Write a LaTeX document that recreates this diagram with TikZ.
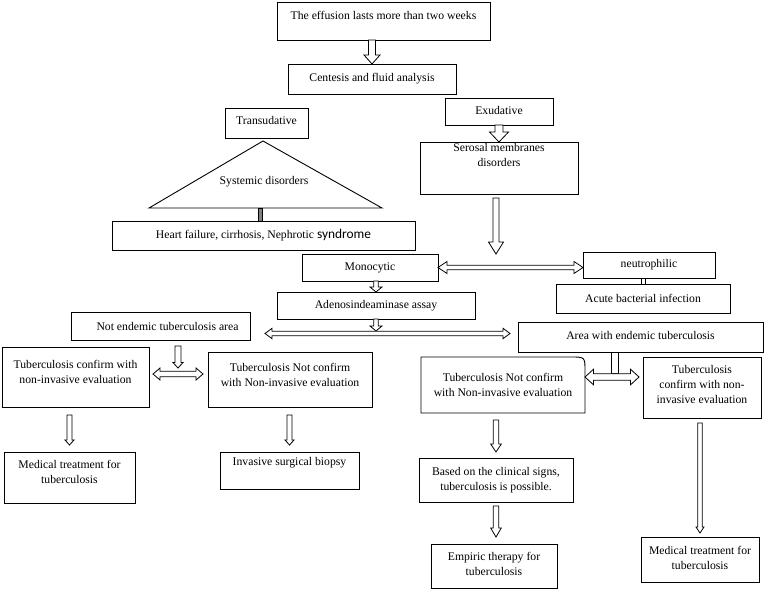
\documentclass[tikz,border=0pt]{standalone}
\usepackage{fontspec}
\setmainfont{Liberation Serif}
\newfontfamily\carl{Carlito}
\usetikzlibrary{calc}
% box: [upshift]{name}{x}{y}{w}{h}{text}
\newcommand\bx[7][0pt]{\node[box, anchor=north west] (#2) at (#3,#4) {\parbox[c][#6pt][c]{#5pt}{\centering #7\par\vspace{#1}}};}
% hollow down arrow: start, end, shaft half width, head half width, head length
\newcommand\downarr[5]{\draw[hollow] let \p1=#1, \p2=#2 in
  (\x1-#3pt,\y1) -- (\x1-#3pt,\y2+#5pt) -- (\x1-#4pt,\y2+#5pt) -- (\x1,\y2) --
  (\x1+#4pt,\y2+#5pt) -- (\x1+#3pt,\y2+#5pt) -- (\x1+#3pt,\y1) -- cycle;}
% hollow double horizontal arrow: left tip, right tip, shaft half, head half, head length
\newcommand\dblarr[5]{\draw[hollow] let \p1=#1, \p2=#2 in
  (\x1,\y1) -- (\x1+#5pt,\y1+#4pt) -- (\x1+#5pt,\y1+#3pt) -- (\x2-#5pt,\y1+#3pt) --
  (\x2-#5pt,\y1+#4pt) -- (\x2,\y1) -- (\x2-#5pt,\y1-#4pt) -- (\x2-#5pt,\y1-#3pt) --
  (\x1+#5pt,\y1-#3pt) -- (\x1+#5pt,\y1-#4pt) -- cycle;}
\begin{document}
\begin{tikzpicture}[x=1pt,y=-1pt,
  box/.style={draw, line width=0.9pt, inner sep=0pt, outer sep=0pt, font=\fontsize{11.7}{15}\selectfont},
  boxline/.style={draw, line width=0.9pt},
  txt/.style={inner sep=0pt, font=\fontsize{11.7}{15}\selectfont},
  hollow/.style={draw, fill=white, line width=0.8pt, line join=miter}]
\useasboundingbox[fill=white] (0,0) rectangle (765,590);

% boxes
\bx[12pt]{eff}{277}{2}{213}{38}{The effusion lasts more than two weeks}
\bx{cent}{288}{64}{168}{30}{Centesis and fluid analysis}
\bx[5pt]{trans}{225}{108}{83}{30}{Transudative}
\bx{heart}{112}{221}{303}{29}{Heart failure, cirrhosis, Nephrotic {\carl\fontsize{13.4}{15}\selectfont syndrome}}
\bx[3pt]{exu}{445}{98}{108}{27}{Exudative}
\bx[26pt]{ser}{420}{142}{158}{52}{Serosal membranes\\disorders}
\bx{mono}{302}{254}{136}{27}{Monocytic}
\bx{neutro}{583}{252}{132}{26}{neutrophilic}
\bx{acute}{556}{284}{174}{29}{Acute bacterial infection}
\bx{aden}{277}{292}{198}{27}{Adenosindeaminase assay}
\bx[4pt]{area}{518}{322}{245}{30}{Area with endemic tuberculosis}
\bx{notend}{71}{312}{179}{28}{\hspace*{14pt}Not endemic tuberculosis area}
\bx[10pt]{lconf}{2}{347}{147}{60}{Tuberculosis confirm with\\non-invasive evaluation}
\bx[9pt]{lnot}{208}{352}{164}{55}{Tuberculosis Not confirm\\with Non-invasive evaluation}
\bx[11pt]{lmed}{4}{452}{131}{51}{Medical treatment for\\tuberculosis}
\bx[15pt]{biopsy}{220}{452}{139}{37}{Invasive surgical biopsy}
\node[box, draw=none, anchor=north west] (rnot) at (421,357) {\parbox[c][56pt][c]{164pt}{\centering Tuberculosis Not confirm\\with Non-invasive evaluation}};
\draw[boxline] (rnot.south west) -- (rnot.north west) -- ($(rnot.north east)+(-14,0)$)
  .. controls (rnot.north east) .. ($(rnot.north east)+(0,14)$) -- (rnot.south east) -- cycle;
\bx[7pt]{rconf}{643}{357}{118}{61}{Tuberculosis\\confirm with non-\\invasive evaluation}
\bx{based}{419}{458}{154}{44}{Based on the clinical signs,\\tuberculosis is possible.}
\bx[4pt]{empiric}{431}{544}{126}{44}{Empiric therapy for\\tuberculosis}
\bx[3pt]{rmed}{641}{537}{118}{45}{Medical treatment for\\tuberculosis}

% triangle
\coordinate (ta) at (263,141);
\coordinate (tl) at (149,208);
\coordinate (tr) at (382,208);
\draw[boxline] (ta) -- (tl) -- (tr) -- cycle;
\node[txt] (sys) at (264,182) {Systemic disorders};
\coordinate (tb) at (260.3,208);
\draw[line width=0.6pt, fill=gray] ($(tb)+(-2,0)$) rectangle ($(heart.north -| tb)+(2,0)$);

% connectors
\downarr{(cent.north |- eff.south)}{(cent.north)}{3.5}{8}{9}
\downarr{(exu.south)}{(ser.north)}{4}{9.5}{10}
\downarr{($(ser.south)+(-3,4)$)}{(ser.south |- mono.north)}{3}{7.5}{12}
\dblarr{(mono.east)}{(neutro.west)}{2.2}{6}{9}
\draw[hollow] ($(acute.north |- neutro.south)+(-2,0)$) rectangle ($(acute.north)+(2,0)$);
\downarr{(aden.north |- mono.south)}{(aden.north)}{2.3}{6}{5}
\coordinate (dl) at (265,333.5);
\coordinate (dr) at (510,333.5);
\downarr{(aden.south)}{($(dr)+(0,-2.5)$)}{2.3}{6}{5}
\dblarr{(dl)}{(dr)}{2.3}{5.2}{7}
\coordinate (hub) at (178,374);
\downarr{($(hub |- notend.south)+(0,6)$)}{($(hub)+(0,-6)$)}{3}{5}{5.5}
\dblarr{($(lconf.east |- hub)+(4,0)$)}{($(lnot.west |- hub)+(-5,0)$)}{2.8}{6}{7}
\downarr{($(lmed.north |- lconf.south)+(0,8)$)}{($(lmed.north)+(0,-7)$)}{2.5}{4.5}{5}
\downarr{($(biopsy.north |- lnot.south)+(0,8)$)}{($(biopsy.north)+(0,-7)$)}{2.5}{4.5}{5}
\coordinate (hub2) at (614.7,377);
\draw[hollow] ($(hub2 |- area.south)+(-3.7,0)$) rectangle ($(hub2)+(3.7,-3.3)$);
\dblarr{(rnot.east |- hub2)}{($(rconf.west |- hub2)+(-4,0)$)}{3.3}{7.8}{8.5}
\downarr{($(based.north |- rnot.south)+(0,7)$)}{($(based.north)+(0,-6)$)}{2.8}{5.3}{8}
\downarr{($(based.south)+(0,4)$)}{($(empiric.north)+(0,-7)$)}{2.8}{5.3}{9}
\downarr{($(rmed.north |- rconf.south)+(0,5)$)}{($(rmed.north)+(0,-4)$)}{2.2}{4}{6}
\end{tikzpicture}
\end{document}
